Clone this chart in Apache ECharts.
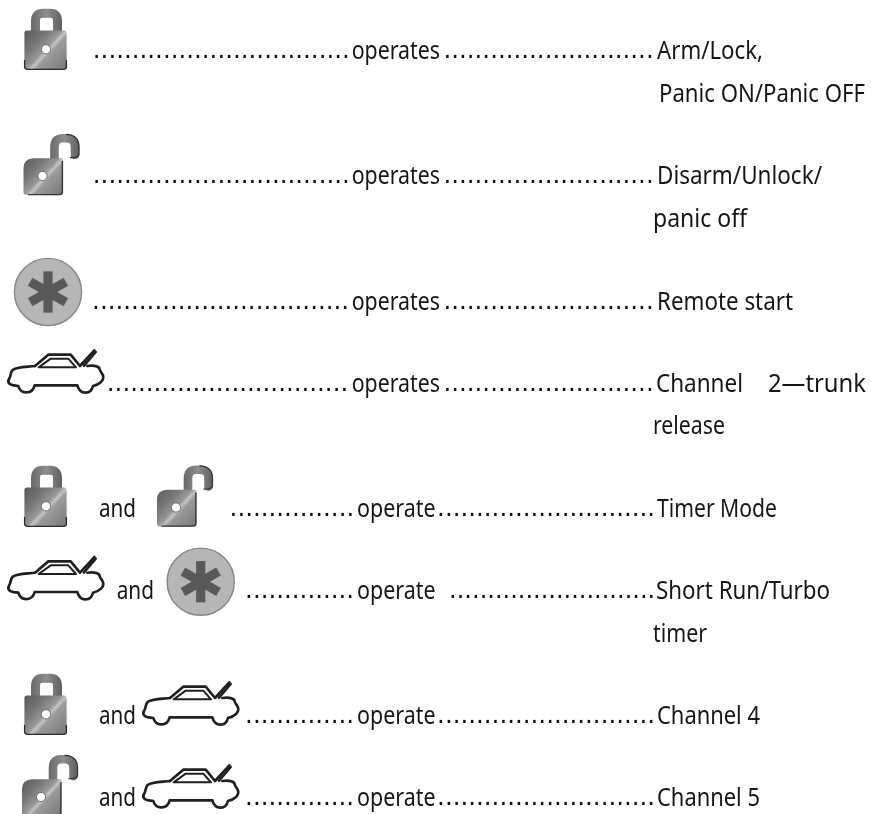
<!DOCTYPE html>
<html>
<head>
<meta charset="utf-8">
<title>Remote buttons</title>
<style>
html,body{margin:0;padding:0;background:#fff;}
#main{width:871px;height:814px;}
</style>
<script src="https://cdn.jsdelivr.net/npm/echarts@6/dist/echarts.min.js"></script>
</head>
<body>
<div id="main"></div>
<script>
//text of each row
var leadersLeft = [
    '.................................',
    '.................................',
    '.................................',
    '...............................',
    '................',
    '..............',
    '..............',
    '..............'
];
var verbs = ['operates', 'operates', 'operates', 'operates', 'operate', 'operate', 'operate', 'operate'];
var leadersRight = [
    '...........................',
    '...........................',
    '...........................',
    '...........................',
    '............................',
    '...........................',
    '............................',
    '............................'
];
var functionsMain = ['Arm/Lock,', 'Disarm/Unlock/', 'Remote start', 'Channel', 'Timer Mode', 'Short Run/Turbo', 'Channel 4', 'Channel 5'];
var functionsMore = ['Panic ON/Panic OFF', 'panic off', 'release', 'timer', '2\u2014trunk'];
var joinWord = 'and';

//layout, in page pixels
var rowBase = [58, 183, 309, 391, 516, 598, 723, 805];
var leftStart = [96.7, 96.7, 96, 110.7, 233.5, 249, 249, 249];
var rightStart = [447.3, 447.3, 447.3, 447.3, 441, 453, 441, 441];
var rightScale = [1, 1, 1, 1, 1, 0.98, 1, 1];
var verbSpan = [[351.7, 440], [351.7, 440], [351.7, 440], [351.7, 440], [357, 435.5], [357, 435.5], [357, 435.5], [357, 435.5]];
var mainSpan = [[657, 763], [657, 822], [657, 793], [656, 743], [657, 777], [656, 830], [657, 760], [657, 760]];
var moreSpan = [[659, 865, 100.7], [653, 747, 226], [653, 725, 433], [653, 707, 641], [768, 866, 391]];
var joinSpan = [[99, 136, 516], [116.7, 154, 598], [99, 136, 723], [99, 136, 805]];
var lockAt = [[0, 0], [0, 457], [0, 665]];
var unlockAt = [[0, 0], [133.5, 331.5], [-1.5, 621]];
var starAt = [[48, 292], [200.7, 581.7]];
var carAt = [[0, 230], [0, 436.7], [135, 562], [135, 645]];

var textFont = '"Noto Sans"';
var textSize = 24.5;
var dotFont = '24.5px "DejaVu Sans"';
var ink = '#161616';
var measureCtx = document.createElement('canvas').getContext('2d');

function fitScale(text, span) {
    measureCtx.font = textSize + 'px ' + textFont;
    return (span[1] - span[0]) / measureCtx.measureText(text).width;
}

//every text item: [x, baseline, text, scaleX, isDots]
var textItems = [];
for (var i = 0; i < rowBase.length; i++) {
    textItems.push([leftStart[i] - 3.9, rowBase[i], leadersLeft[i], 1, 1]);
    textItems.push([verbSpan[i][0], rowBase[i], verbs[i], fitScale(verbs[i], verbSpan[i]), 0]);
    textItems.push([rightStart[i] - 3.9, rowBase[i], leadersRight[i], rightScale[i], 1]);
    textItems.push([mainSpan[i][0], rowBase[i], functionsMain[i], fitScale(functionsMain[i], mainSpan[i]), 0]);
}
functionsMore.forEach(function (t, k) {
    textItems.push([moreSpan[k][0], moreSpan[k][2], t, fitScale(t, moreSpan[k]), 0]);
});
joinSpan.forEach(function (s) {
    textItems.push([s[0], s[2], joinWord, fitScale(joinWord, s), 0]);
});

function metal() {
    return new echarts.graphic.LinearGradient(0, 0, 1, 1, [
        {offset: 0, color: '#5a5a5a'},
        {offset: 0.3, color: '#787878'},
        {offset: 0.48, color: '#979797'},
        {offset: 0.54, color: '#c4c4c4'},
        {offset: 0.6, color: '#9a9a9a'},
        {offset: 1, color: '#777777'}
    ]);
}
function shackleColor() {
    return new echarts.graphic.LinearGradient(0, 0, 1, 0, [
        {offset: 0, color: '#6a6a6a'},
        {offset: 0.5, color: '#8e8e8e'},
        {offset: 1, color: '#5e5e5e'}
    ]);
}

function lockChildren() {
    return [
        {type: 'path', shape: {pathData: 'M35.5 34L35.5 21Q35.5 13.2 43 13.2L50 13.2Q57.5 13.2 57.5 21L57.5 34'},
            style: {fill: 'none', stroke: shackleColor(), lineWidth: 9}},
        {type: 'path', shape: {pathData: 'M27 30.5L64 30.5Q66.6 30.5 66.6 33.5L66.6 67Q66.6 69.8 63 69.8L28 69.8Q24.4 69.8 24.4 67L24.4 33.5Q24.4 30.5 27 30.5Z'},
            style: {fill: metal()}},
        {type: 'path', shape: {pathData: 'M24.6 60L24.6 67Q24.6 69.4 28 69.4L63 69.4Q66.4 69.4 66.4 67L66.4 60'},
            style: {fill: 'none', stroke: '#2b2b2b', lineWidth: 1.3}},
        {type: 'circle', shape: {cx: 46, cy: 49.3, r: 4.6}, style: {fill: '#fff', stroke: '#5a5a5a', lineWidth: 0.8}}
    ];
}
function unlockChildren() {
    return [
        {type: 'path', shape: {pathData: 'M54.5 162L54.5 147Q54.5 138.3 62.5 138.3L66.5 138.3Q75 138.3 75 147L75 155'},
            style: {fill: 'none', stroke: shackleColor(), lineWidth: 8.6, lineCap: 'round'}},
        {type: 'path', shape: {pathData: 'M70 157.6Q77 158 79 155L79 146Q78.5 134.8 66 134.4'},
            style: {fill: 'none', stroke: '#333', lineWidth: 1.2}},
        {type: 'path', shape: {pathData: 'M23.5 168Q23.5 159 33 158.2L62.8 158.2L62.8 192Q62.8 195 59 195L27 195Q23.5 195 23.5 192Z'},
            style: {fill: metal()}},
        {type: 'path', shape: {pathData: 'M62.4 161L62.4 192Q62.4 194.6 59 194.6L28 194.6'},
            style: {fill: 'none', stroke: '#333', lineWidth: 1.4}},
        {type: 'circle', shape: {cx: 42.5, cy: 176, r: 4.6}, style: {fill: '#fff', stroke: '#5a5a5a', lineWidth: 0.8}}
    ];
}
function starChildren() {
    var list = [{type: 'circle', shape: {cx: 0, cy: 0, r: 33.6}, style: {fill: '#b6b6b4', stroke: '#868686', lineWidth: 1.4}}];
    [0, 60, 120].forEach(function (deg) {
        list.push({type: 'rect', rotation: deg * Math.PI / 180, shape: {x: -4.6, y: -20.6, width: 9.2, height: 41.2},
            style: {fill: '#58595b'}});
    });
    return list;
}
//car is drawn in a 3x grid, the group scales it down
function carChildren() {
    var s = {fill: 'none', stroke: '#231f20', lineWidth: 8, lineJoin: 'round', lineCap: 'round'};
    return [
        {type: 'path', shape: {pathData: 'M105 408C80 411 50 410 38 420C30 428 34 436 27 447C20 460 30 466 55 468C62 494 97 494 104 466L232 466C240 494 272 496 279 468C296 464 314 452 309 436C304 426 298 422 298 414C290 406 276 406 262 408'},
            style: s},
        {type: 'path', shape: {pathData: 'M105 408L145 374L212 374L240 408L283 361'}, style: s},
        {type: 'path', shape: {pathData: 'M252 407L287 366'}, style: s},
        {type: 'path', shape: {pathData: 'M116 412L152 386L205 386L228 412Z'}, style: {fill: 'none', stroke: '#231f20', lineWidth: 6, lineJoin: 'round'}}
    ];
}

var dom = document.getElementById('main');
var myChart = echarts.init(dom, null, {renderer: 'canvas'});

function iconSeries(places, build, scale) {
    return {
        type: 'custom',
        coordinateSystem: 'cartesian2d',
        clip: false,
        silent: true,
        data: places,
        renderItem: function (params, api) {
            var p = api.coord([api.value(0), api.value(1)]);
            return {type: 'group', x: p[0], y: p[1], scaleX: scale, scaleY: scale, children: build()};
        }
    };
}

var option = {
    animation: false,
    backgroundColor: '#fff',
    grid: {left: 0, right: 0, top: 0, bottom: 0},
    xAxis: {type: 'value', min: 0, max: 871, show: false},
    yAxis: {type: 'value', min: 0, max: 814, inverse: true, show: false},
    series: [
        iconSeries(lockAt, lockChildren, 1),
        iconSeries(unlockAt, unlockChildren, 1),
        iconSeries(starAt, starChildren, 1),
        iconSeries(carAt, carChildren, 1 / 3),
        {
            type: 'custom',
            coordinateSystem: 'cartesian2d',
            silent: true,
            data: textItems.map(function (t) { return [t[0], t[1]]; }),
            renderItem: function (params, api) {
                var t = textItems[params.dataIndex];
                var p = api.coord([api.value(0), api.value(1)]);
                if (t[4]) {
                    return {type: 'text', x: p[0], y: p[1] - 6, scaleX: t[3],
                        style: {text: t[2], x: 0, y: 0, font: dotFont, fill: '#111', verticalAlign: 'middle', align: 'left'}};
                }
                return {type: 'text', x: p[0], y: p[1] - 5.5, scaleX: t[3],
                    style: {text: t[2], x: 0, y: 0, font: textSize + 'px ' + textFont, fill: ink, verticalAlign: 'middle', align: 'left'}};
            }
        }
    ]
};
myChart.setOption(option, true);
</script>
</body>
</html>
